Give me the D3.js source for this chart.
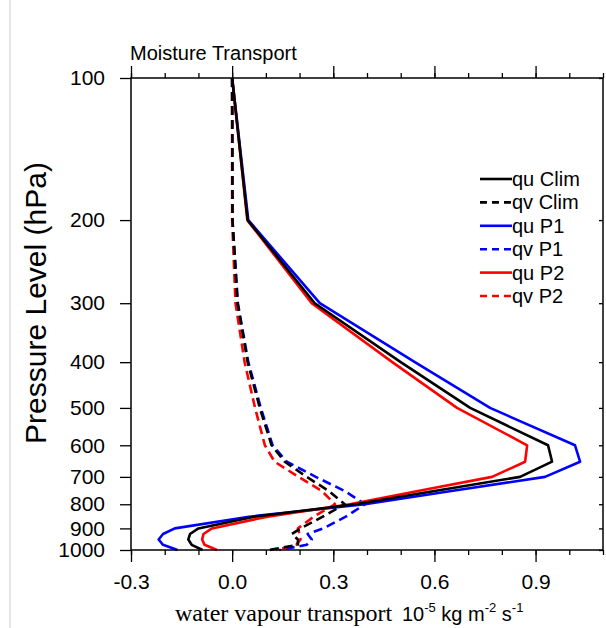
<!DOCTYPE html>
<html>
<head>
<meta charset="utf-8">
<script src="https://cdn.jsdelivr.net/npm/d3@7"></script>
<style>
  body { margin: 0; background: #fff; }
  svg { display: block; }
</style>
</head>
<body>
<div id="chart"></div>
<script>
// pressure levels (hPa) and transport profiles (10^-5 kg m^-2 s^-1)
var levels = [100, 200, 300, 400, 500, 600, 650, 700, 750, 800, 850, 900, 925, 950, 975, 1000];

var quClim = [0.0, 0.046, 0.245, 0.50, 0.706, 0.937, 0.949, 0.854, 0.600, 0.366, 0.065, -0.100, -0.125, -0.130, -0.120, -0.088];
var qvClim = [0.0, 0.001, 0.016, 0.046, 0.082, 0.117, 0.156, 0.221, 0.287, 0.334, 0.269, 0.203, 0.177, 0.195, 0.195, 0.110];
var quP1   = [0.0, 0.048, 0.260, 0.542, 0.765, 1.017, 1.032, 0.928, 0.650, 0.394, 0.050, -0.170, -0.205, -0.218, -0.205, -0.162];
var qvP1   = [0.0, 0.001, 0.017, 0.048, 0.085, 0.120, 0.162, 0.248, 0.334, 0.394, 0.337, 0.270, 0.224, 0.236, 0.221, 0.140];
var quP2   = [0.0, 0.045, 0.236, 0.475, 0.667, 0.875, 0.869, 0.771, 0.551, 0.349, 0.105, -0.060, -0.085, -0.089, -0.082, -0.045];
var qvP2   = [0.0, 0.000, 0.010, 0.037, 0.068, 0.097, 0.126, 0.197, 0.266, 0.305, 0.242, 0.195, 0.200, 0.203, 0.190, 0.130];

var series = [
    {name: 'qu P1',   values: quP1,   color: '#0000ff', dashed: false},
    {name: 'qv P1',   values: qvP1,   color: '#0000ff', dashed: true},
    {name: 'qu P2',   values: quP2,   color: '#ff0000', dashed: false},
    {name: 'qv P2',   values: qvP2,   color: '#ff0000', dashed: true},
    {name: 'qu Clim', values: quClim, color: '#000000', dashed: false},
    {name: 'qv Clim', values: qvClim, color: '#000000', dashed: true}
];
var legendOrder = ['qu Clim', 'qv Clim', 'qu P1', 'qv P1', 'qu P2', 'qv P2'];

var xMajor = [-0.3, 0.0, 0.3, 0.6, 0.9];
var xMinor = d3.range(-3, 12).map(d => d / 10);
var yTicks = [100, 200, 300, 400, 500, 600, 700, 800, 900, 1000];

(function () {
    var width = 606, height = 628;
    var m = {left: 131, right: 603, top: 78, bottom: 550};
    var sans = '"Liberation Sans", Arial, Helvetica, sans-serif';
    var serif = '"Liberation Serif", "Times New Roman", serif';

    var svg = d3.select('#chart')
        .append('svg')
        .attr('width', width)
        .attr('height', height);

    // faint frame line of the original image
    svg.append('line')
        .attr('x1', 10).attr('x2', 10)
        .attr('y1', 0).attr('y2', height)
        .attr('stroke', '#cccccc')
        .attr('stroke-width', 1);

    var x = d3.scaleLinear()
        .domain([-0.3, 1.1])
        .range([m.left, m.right]);

    var y = d3.scaleLog()
        .domain([100, 1000])
        .range([m.top, m.bottom]);

    var line = d3.line()
        .x(d => x(d[0]))
        .y(d => y(d[1]))
        .curve(d3.curveLinear);

    var plot = svg.append('g');
    series.forEach(function (s) {
        plot.append('path')
            .datum(s.values.map((v, i) => [v, levels[i]]))
            .attr('d', line)
            .attr('fill', 'none')
            .attr('stroke', s.color)
            .attr('stroke-width', 2.6)
            .attr('stroke-linejoin', 'round')
            .attr('stroke-dasharray', s.dashed ? '9,5' : null);
    });

    // axes
    function styleAxis(g) {
        g.select('.domain').remove();
        g.selectAll('line').attr('stroke', '#000').attr('stroke-width', 1.3);
        g.selectAll('text').attr('font-family', sans).attr('font-size', 21).attr('fill', '#000');
    }
    var fmt = d => d3.format('.1f')(d).replace('\u2212', '-');

    svg.append('g')
        .attr('transform', 'translate(0,' + m.bottom + ')')
        .call(d3.axisBottom(x).tickValues(xMinor).tickSize(5).tickFormat(''))
        .call(styleAxis);
    svg.append('g')
        .attr('transform', 'translate(0,' + m.bottom + ')')
        .call(d3.axisBottom(x).tickValues(xMajor).tickSize(12).tickPadding(12).tickFormat(fmt))
        .call(styleAxis);

    svg.append('g')
        .attr('transform', 'translate(0,' + m.top + ')')
        .call(d3.axisTop(x).tickValues(xMinor).tickSize(5).tickFormat(''))
        .call(styleAxis);
    svg.append('g')
        .attr('transform', 'translate(0,' + m.top + ')')
        .call(d3.axisTop(x).tickValues(xMajor).tickSize(12).tickFormat(''))
        .call(styleAxis);

    svg.append('g')
        .attr('transform', 'translate(' + m.left + ',0)')
        .call(d3.axisLeft(y).tickValues(yTicks).tickSize(11).tickPadding(15).tickFormat(d3.format('d')))
        .call(styleAxis);

    svg.append('g')
        .attr('transform', 'translate(' + m.right + ',0)')
        .call(d3.axisLeft(y).tickValues(yTicks).tickSize(4).tickFormat(''))
        .call(styleAxis);

    svg.append('rect')
        .attr('x', m.left).attr('y', m.top)
        .attr('width', m.right - m.left).attr('height', m.bottom - m.top)
        .attr('fill', 'none')
        .attr('stroke', '#000')
        .attr('stroke-width', 1.5);

    // title
    svg.append('text')
        .attr('x', m.left - 1)
        .attr('y', 60)
        .attr('font-family', sans)
        .attr('font-size', 20)
        .text('Moisture Transport');

    // y title
    svg.append('text')
        .attr('transform', 'translate(46,303) rotate(-90)')
        .attr('text-anchor', 'middle')
        .attr('font-family', sans)
        .attr('font-size', 30)
        .text('Pressure Level (hPa)');

    // x title
    svg.append('text')
        .attr('x', 175)
        .attr('y', 621)
        .attr('font-family', serif)
        .attr('font-size', 24)
        .text('water vapour transport');
    var unit = svg.append('text')
        .attr('x', 402)
        .attr('y', 621)
        .attr('font-family', sans)
        .attr('font-size', 20);
    unit.append('tspan').text('10');
    unit.append('tspan').attr('font-size', 13).attr('dy', -9).text('-5');
    unit.append('tspan').attr('dy', 9).text(' kg m');
    unit.append('tspan').attr('font-size', 13).attr('dy', -9).text('-2');
    unit.append('tspan').attr('dy', 9).text(' s');
    unit.append('tspan').attr('font-size', 13).attr('dy', -9).text('-1');

    // legend
    var legend = svg.append('g');
    legendOrder.forEach(function (name, i) {
        var s = series.find(d => d.name === name);
        var ly = 179 + i * 23.4;
        legend.append('line')
            .attr('x1', 480).attr('x2', 512)
            .attr('y1', ly).attr('y2', ly)
            .attr('stroke', s.color)
            .attr('stroke-width', 2.6)
            .attr('stroke-dasharray', s.dashed ? '7,5' : null);
        legend.append('text')
            .attr('x', 512)
            .attr('y', ly + 7)
            .attr('font-family', sans)
            .attr('font-size', 20)
            .text(name);
    });
})();
</script>
</body>
</html>
